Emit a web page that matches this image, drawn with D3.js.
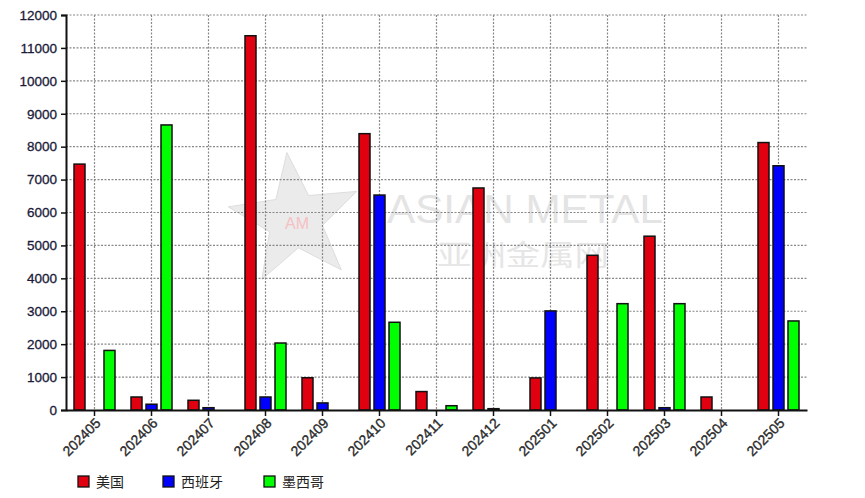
<!DOCTYPE html>
<html><head><meta charset="utf-8">
<script src="https://cdn.jsdelivr.net/npm/d3@7"></script>
<style>
body{margin:0;background:#fff;}
svg{display:block;font-family:Arial,"Liberation Sans",sans-serif;}
</style></head><body>
<svg id="c" width="865" height="498"></svg>
<script>
const categories = ["202405","202406","202407","202408","202409","202410","202411","202412","202501","202502","202503","202504","202505"];
const seriesNames = ["美国","西班牙","墨西哥"];
const usa    = [7470, 395, 295, 11370, 980, 8395, 560, 6745, 975, 4700, 5280, 395, 8125];
const spain  = [0, 175, 70, 395, 215, 6530, 0, 40, 3010, 0, 70, 0, 7420];
const mexico = [1810, 8660, 0, 2035, 0, 2665, 130, 0, 0, 3230, 3230, 0, 2705];
const yTicks = [0,1000,2000,3000,4000,5000,6000,7000,8000,9000,10000,11000,12000];
const colors = ["#e00010","#0000ff","#00ff00"];
const series = [usa, spain, mexico];

const svg = d3.select("#c");
const L = 66, R = 807, T = 15, B = 410;
const x = d3.scaleBand().domain(categories).range([L, R]);
const y = d3.scaleLinear().domain([0, 12000]).range([B, T]);

// watermark
const wm = svg.append("g");
const cx = 295, cy = 220, ro = 68, ri = 28;
const pts = d3.range(10).map(i => {
  const a = -Math.PI/2 + i*Math.PI/5 - 0.12;
  const r = i%2===0 ? ro : ri;
  return [cx + r*Math.cos(a), cy + r*Math.sin(a)];
});
wm.append("polygon").attr("points", pts.map(p=>p.join(",")).join(" "))
  .attr("fill","#ebebeb").attr("stroke","#dddddd");
wm.append("text").attr("x",297).attr("y",229).attr("text-anchor","middle")
  .attr("font-size",16).attr("fill","#f6c0c4").text("AM");
wm.append("text").attr("x",387).attr("y",223).attr("font-size",40)
  .attr("textLength",276).attr("lengthAdjust","spacingAndGlyphs")
  .attr("fill","#e4e4e4").text("ASIAN METAL");
wm.append("text").attr("x",437).attr("y",266).attr("font-size",29)
  .attr("font-family","'Noto Sans CJK SC',sans-serif")
  .attr("textLength",172).attr("lengthAdjust","spacingAndGlyphs")
  .attr("fill","#e6e6e6").text("亚洲金属网");

// grid
const grid = svg.append("g").attr("stroke","#888").attr("stroke-width",1.2).attr("stroke-dasharray","2,1.5");
yTicks.slice(1).forEach(t => grid.append("line").attr("x1",L).attr("x2",R).attr("y1",y(t)).attr("y2",y(t)));
categories.forEach(c => grid.append("line").attr("x1",x(c)+x.bandwidth()/2).attr("x2",x(c)+x.bandwidth()/2).attr("y1",T).attr("y2",B));

// bars
const bw = 11, off = 15;
series.forEach((s, si) => {
  svg.append("g").selectAll("rect").data(s.map((v,i)=>({v,c:categories[i]})).filter(d=>d.v>0))
    .join("rect")
    .attr("x", d => x(d.c) + x.bandwidth()/2 + (si-1)*off - bw/2)
    .attr("y", d => y(d.v))
    .attr("width", bw)
    .attr("height", d => B - y(d.v))
    .attr("fill", colors[si]).attr("stroke","#111").attr("stroke-width",1.5);
});

// axes
const yAxis = d3.axisLeft(y).tickValues(yTicks).tickSize(5).tickPadding(4).tickFormat(d3.format("d"));
const ga = svg.append("g").attr("transform",`translate(${L},0)`).call(yAxis);
ga.select(".domain").attr("stroke","#111").attr("stroke-width",2);
ga.selectAll(".tick line").attr("stroke","#111").attr("stroke-width",1.5);
ga.selectAll("text").attr("font-size",13.5).attr("fill","#1a1a3a")
  .attr("stroke","#1a1a3a").attr("stroke-width",0.3)
  .attr("font-family","Arial,'Liberation Sans',sans-serif");

const xAxis = d3.axisBottom(x).tickSize(6).tickSizeOuter(0);
const gx = svg.append("g").attr("transform",`translate(0,${B})`).call(xAxis);
gx.select(".domain").attr("stroke","#111").attr("stroke-width",2);
gx.selectAll(".tick line").attr("stroke","#111").attr("stroke-width",1.5);
gx.selectAll("text").attr("font-size",14).attr("fill","#2a2a2a")
  .attr("stroke","#2a2a2a").attr("stroke-width",0.35)
  .attr("font-family","Arial,'Liberation Sans',sans-serif")
  .attr("text-anchor","end").attr("dy",0).attr("y",0)
  .attr("transform","translate(7,14) rotate(-45)");

// legend
const lg = svg.append("g");
const lx = [78, 163, 264];
seriesNames.forEach((n,i) => {
  lg.append("rect").attr("x",lx[i]).attr("y",476).attr("width",11).attr("height",11)
    .attr("fill",colors[i]).attr("stroke","#111").attr("stroke-width",1.3);
  lg.append("text").attr("x",lx[i]+18).attr("y",487).attr("font-size",14)
    .attr("font-family","'Noto Sans CJK SC',sans-serif").attr("fill","#222").text(n);
});
</script>
</body></html>
